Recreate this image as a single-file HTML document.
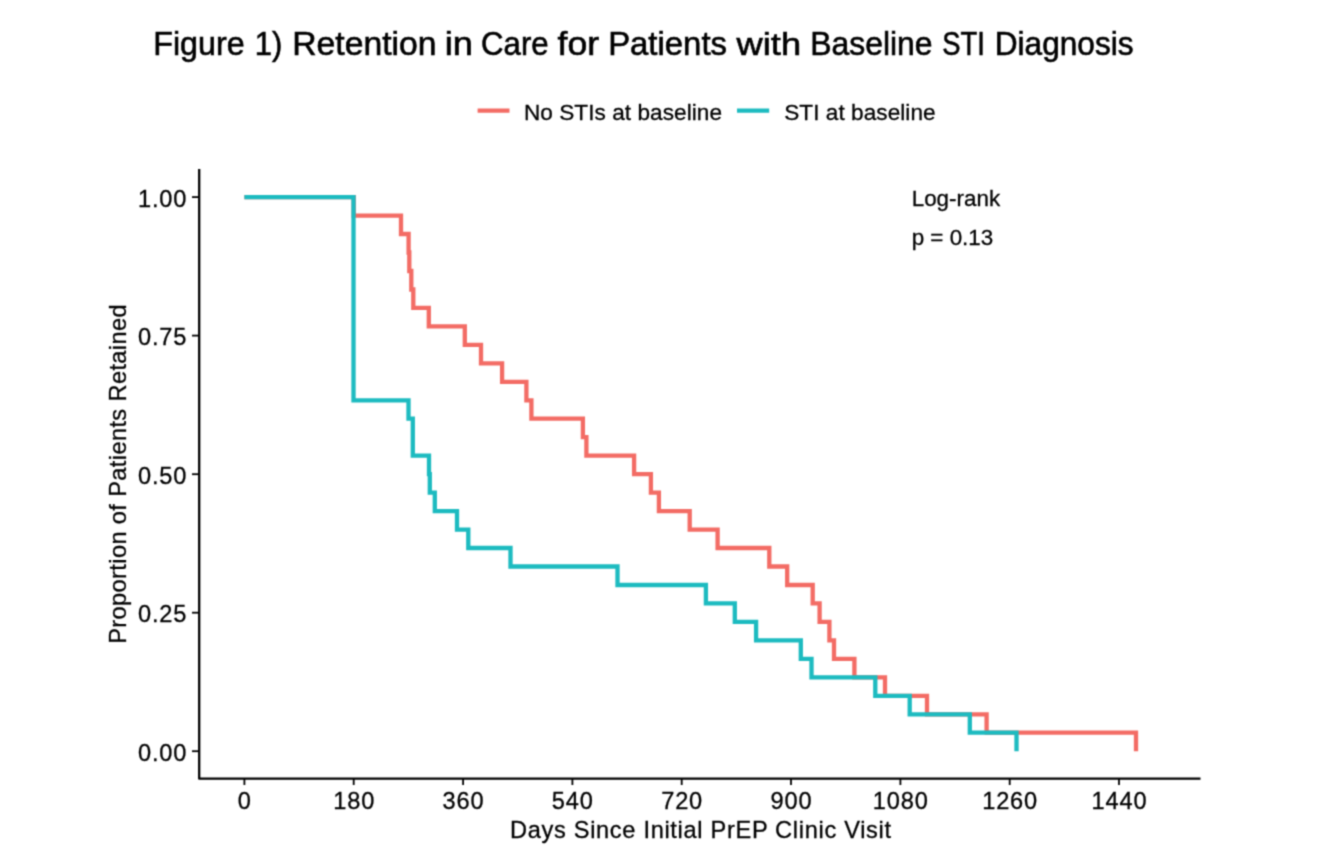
<!DOCTYPE html>
<html><head><meta charset="utf-8"><title>Figure 1) Retention in Care for Patients with Baseline STI Diagnosis</title>
<style>
html,body{margin:0;padding:0;background:#fff;}
body{width:1338px;height:868px;overflow:hidden;}
svg{display:block;}
svg text{font-family:'Liberation Sans', Arial, Helvetica, sans-serif;fill:#000;stroke:#000;stroke-width:0.3px;}
svg text.t{stroke-width:0.6px;}
</style></head><body>
<svg width="1338" height="868" viewBox="0 0 1338 868">
<defs><filter id="soft" filterUnits="userSpaceOnUse" x="0" y="0" width="1338" height="868" color-interpolation-filters="sRGB"><feConvolveMatrix order="3" kernelMatrix="1 3 1 3 9 3 1 3 1" divisor="25" edgeMode="duplicate"/></filter></defs>
<rect width="1338" height="868" fill="#fff"/>
<g filter="url(#soft)">
<text class="t" transform="translate(153.28,54.50) scale(0.9975,1.000)" style="font-size:32.3px">Figure</text><text class="t" transform="translate(254.76,54.50) scale(0.9589,1.000)" style="font-size:32.3px">1)</text><text class="t" transform="translate(292.27,54.50) scale(1.0438,1.000)" style="font-size:32.3px">Retention</text><text class="t" transform="translate(444.64,54.50) scale(1.1217,1.000)" style="font-size:32.3px">in</text><text class="t" transform="translate(481.04,54.50) scale(0.9660,1.000)" style="font-size:32.3px">Care</text><text class="t" transform="translate(557.50,54.50) scale(1.1029,1.000)" style="font-size:32.3px">for</text><text class="t" transform="translate(608.13,54.50) scale(1.0188,1.000)" style="font-size:32.3px">Patients</text><text class="t" transform="translate(736.57,54.50) scale(1.1242,1.000)" style="font-size:32.3px">with</text><text class="t" transform="translate(810.21,54.50) scale(0.9878,1.000)" style="font-size:32.3px">Baseline</text><text class="t" transform="translate(942.14,54.50) scale(0.8484,1.000)" style="font-size:32.3px">STI</text><text class="t" transform="translate(994.73,54.50) scale(0.9790,1.000)" style="font-size:32.3px">Diagnosis</text>
<g stroke-width="4.3" stroke-linecap="butt">
<line x1="477.6" y1="110.7" x2="509.5" y2="110.7" stroke="#F36C65"/>
<line x1="737" y1="110.7" x2="769.2" y2="110.7" stroke="#1DBBC0"/>
</g>
<text transform="translate(523.90,119.70)" style="font-size:22.6px;letter-spacing:0.05px">No STIs at baseline</text>
<text transform="translate(784.20,119.70)" style="font-size:22.6px;letter-spacing:0.05px">STI at baseline</text>
<g fill="none" stroke-width="4.3" stroke-linejoin="miter" stroke-linecap="butt">
<path d="M244.4,197.1H353.7V215.6H401.0V234.0H408.6V252.5H409.3V271.0H411.3V289.5H413.3V307.9H428.8V326.4H464.8V344.9H481.0V363.3H502.1V381.8H526.4V400.3H531.4V418.7H582.9V437.2H586.4V455.7H634.1V474.2H650.9V492.6H658.9V511.1H689.7V529.6H717.6V548.0H769.3V566.5H787.2V585.0H812.7V603.4H819.6V621.9H829.4V640.4H834.0V658.9H854.4V677.3H885.0V695.8H927.0V714.3H986.6V732.7H1136.0V751.2" stroke="#F36C65"/>
<path d="M244.4,197.1H353.5V400.3H408.5V418.7H412.8V455.7H429.0V474.2H429.8V492.6H434.8V511.1H457.0V529.6H468.3V548.0H510.5V566.5H617.5V585.0H705.9V603.4H734.8V621.9H756.1V640.4H800.8V658.9H811.5V677.3H875.3V695.8H909.7V714.3H969.8V732.7H1016.5V751.2" stroke="#1DBBC0"/>
</g>
<path d="M199.2,169V778.7H1200.5" fill="none" stroke="#000" stroke-width="2.3" stroke-linejoin="round"/>
<g stroke="#000" stroke-width="1.8"><line x1="192" y1="751.2" x2="199.5" y2="751.2"/><line x1="192" y1="612.7" x2="199.5" y2="612.7"/><line x1="192" y1="474.2" x2="199.5" y2="474.2"/><line x1="192" y1="335.6" x2="199.5" y2="335.6"/><line x1="192" y1="197.1" x2="199.5" y2="197.1"/><line x1="244.4" y1="778.5" x2="244.4" y2="785"/><line x1="353.7" y1="778.5" x2="353.7" y2="785"/><line x1="463.1" y1="778.5" x2="463.1" y2="785"/><line x1="572.4" y1="778.5" x2="572.4" y2="785"/><line x1="681.7" y1="778.5" x2="681.7" y2="785"/><line x1="791.0" y1="778.5" x2="791.0" y2="785"/><line x1="900.4" y1="778.5" x2="900.4" y2="785"/><line x1="1009.7" y1="778.5" x2="1009.7" y2="785"/><line x1="1119.0" y1="778.5" x2="1119.0" y2="785"/></g>
<text transform="translate(187.25,760.80) scale(1,1.030)" text-anchor="end" style="font-size:23.6px;letter-spacing:0.85px">0.00</text>
<text transform="translate(187.25,622.28) scale(1,1.030)" text-anchor="end" style="font-size:23.6px;letter-spacing:0.85px">0.25</text>
<text transform="translate(187.25,483.75) scale(1,1.030)" text-anchor="end" style="font-size:23.6px;letter-spacing:0.85px">0.50</text>
<text transform="translate(187.25,345.23) scale(1,1.030)" text-anchor="end" style="font-size:23.6px;letter-spacing:0.85px">0.75</text>
<text transform="translate(187.25,206.70) scale(1,1.030)" text-anchor="end" style="font-size:23.6px;letter-spacing:0.85px">1.00</text>
<text transform="translate(244.83,809.00) scale(1,1.030)" text-anchor="middle" style="font-size:23.6px;letter-spacing:0.85px">0</text>
<text transform="translate(354.15,809.00) scale(1,1.030)" text-anchor="middle" style="font-size:23.6px;letter-spacing:0.85px">180</text>
<text transform="translate(463.48,809.00) scale(1,1.030)" text-anchor="middle" style="font-size:23.6px;letter-spacing:0.85px">360</text>
<text transform="translate(572.80,809.00) scale(1,1.030)" text-anchor="middle" style="font-size:23.6px;letter-spacing:0.85px">540</text>
<text transform="translate(682.12,809.00) scale(1,1.030)" text-anchor="middle" style="font-size:23.6px;letter-spacing:0.85px">720</text>
<text transform="translate(791.45,809.00) scale(1,1.030)" text-anchor="middle" style="font-size:23.6px;letter-spacing:0.85px">900</text>
<text transform="translate(900.77,809.00) scale(1,1.030)" text-anchor="middle" style="font-size:23.6px;letter-spacing:0.85px">1080</text>
<text transform="translate(1010.10,809.00) scale(1,1.030)" text-anchor="middle" style="font-size:23.6px;letter-spacing:0.85px">1260</text>
<text transform="translate(1119.42,809.00) scale(1,1.030)" text-anchor="middle" style="font-size:23.6px;letter-spacing:0.85px">1440</text>
<text transform="translate(700.85,838.00) scale(1,1.030)" text-anchor="middle" style="font-size:23.6px;letter-spacing:0.69px">Days Since Initial PrEP Clinic Visit</text>
<text transform="translate(125.90,473.90) rotate(-90) scale(1,1.030)" text-anchor="middle" style="font-size:23.6px;letter-spacing:0.39px">Proportion of Patients Retained</text>
<text transform="translate(911.70,205.60)" style="font-size:22.4px">Log-rank</text>
<text transform="translate(911.70,244.60)" style="font-size:22.4px">p = 0.13</text>
</g>
</svg>
</body></html>
